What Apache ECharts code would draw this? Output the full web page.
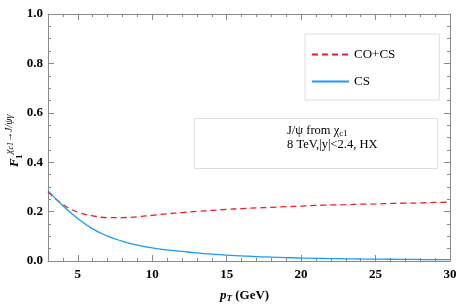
<!DOCTYPE html>
<html><head><meta charset="utf-8">
<script src="https://cdn.jsdelivr.net/npm/echarts@6/dist/echarts.min.js"></script>
<style>html,body{margin:0;padding:0;background:#fff}#c{width:464px;height:307px}</style>
</head><body><div id="c"></div>
<script>
var pT = [3,4,5,6,7,8,9,10,11,12,13,14,15,16,17,18,19,20,21,22,23,24,25,26,27,28,29,30];
var coCS = [0.280,0.229,0.198,0.183,0.176,0.176,0.179,0.185,0.191,0.196,0.201,0.205,0.209,0.212,0.215,0.217,0.220,0.222,0.225,0.227,0.228,0.230,0.231,0.233,0.234,0.235,0.237,0.238];
var cs = [0.285,0.224,0.172,0.130,0.101,0.080,0.064,0.053,0.045,0.039,0.033,0.028,0.024,0.021,0.018,0.016,0.014,0.012,0.011,0.010,0.009,0.008,0.0075,0.007,0.0065,0.006,0.0058,0.0055];
var xMajorTicks = [5,10,15,20,25,30];
var xMinorTicks = [3,4,5,6,7,8,9,10,11,12,13,14,15,16,17,18,19,20,21,22,23,24,25,26,27,28,29,30];
var seriesNames = ['CO+CS','CS'];

function pairs(xs, ys){ return xs.map(function(x,i){return [x, ys[i]];}); }
var axisCol = '#8a8a8a';
var serif = 'Liberation Serif';
function xAx(pos, major, labels){
  return {
    type:'value', position: pos, min:3, max:30,
    axisLine:{show: major, lineStyle:{color:axisCol, width:1}},
    axisTick:{show:true, inside:true, length: major?6:3, customValues: major?xMajorTicks:xMinorTicks, lineStyle:{color:axisCol}},
    axisLabel:{show: labels, customValues: xMajorTicks, margin:7, color:'#000', fontFamily:serif, fontWeight:'bold', fontSize:13},
    splitLine:{show:false}
  };
}
function yAx(pos, labels){
  return {
    type:'value', position: pos, min:0, max:1, interval:0.2,
    axisLine:{show:true, lineStyle:{color:axisCol, width:1}},
    axisTick:{show:true, inside:true, length:6, lineStyle:{color:axisCol}},
    minorTick:{show:true, splitNumber:4, length:3, lineStyle:{color:axisCol}},
    axisLabel:{show: labels, margin:5, color:'#000', fontFamily:serif, fontWeight:'bold', fontSize:13, formatter:function(v){return v.toFixed(1);}},
    splitLine:{show:false}
  };
}
var chart = echarts.init(document.getElementById('c'), null, {renderer:'canvas'});
chart.setOption({
  animation:false,
  backgroundColor:'#fff',
  grid:{left:48, right:14, top:14, bottom:46, containLabel:false},
  xAxis:[xAx('bottom',true,true), xAx('bottom',false,false), xAx('top',true,false), xAx('top',false,false)],
  yAxis:[yAx('left',true), yAx('right',false)],
  legend:{
    orient:'vertical', left:305, top:34,
    data: seriesNames,
    itemWidth:37, itemHeight:10, itemGap:14,
    padding:[14,44,12,6],
    borderColor:'#dedede', borderWidth:1,
    itemStyle:{opacity:0},
    textStyle:{fontFamily:serif, fontSize:13, color:'#000'}
  },
  series:[
    {name:seriesNames[0], type:'line', data:pairs(pT,coCS), smooth:true, showSymbol:false, symbol:'none',
     lineStyle:{color:'#ee1c25', width:1.3, type:[6,4]}, itemStyle:{color:'#ee1c25'}},
    {name:seriesNames[1], type:'line', data:pairs(pT,cs), smooth:true, showSymbol:false, symbol:'none',
     lineStyle:{color:'#1a9bf5', width:1.3}, itemStyle:{color:'#1a9bf5'}}
  ],
  graphic:[
    {type:'rect', shape:{x:194.5, y:118.5, width:243, height:50}, style:{fill:'none', stroke:'#dedede', lineWidth:1}},
    {type:'text', x:287, y:124, style:{text:'{a|J/ψ from χ}{s|c1}', rich:{a:{fontFamily:serif,fontSize:12.5,fill:'#000'}, s:{fontFamily:serif,fontSize:9,fill:'#000', padding:[5,0,0,0]}}}},
    {type:'text', x:287, y:138, style:{text:'8 TeV,|y|<2.4, HX', fontFamily:serif, fontSize:12.5, fill:'#000'}},
    {type:'group', x:18, y:167, rotation:Math.PI/2, children:[
      {type:'text', x:0, y:-10, style:{text:'F', fontFamily:serif, fontWeight:'bold', fontStyle:'italic', fontSize:13, fill:'#000'}},
      {type:'text', x:8, y:-3, style:{text:'1', fontFamily:serif, fontWeight:'bold', fontSize:9, fill:'#000'}},
      {type:'text', x:13, y:-14, style:{text:'{a|χ}{b|c1}{a|→J/ψγ}', rich:{a:{fontFamily:serif, fontStyle:'italic', fontSize:10, fill:'#000'}, b:{fontFamily:serif, fontStyle:'italic', fontSize:8, fill:'#000', padding:[3,0,0,0]}}}}
    ]},
    {type:'text', x:220, y:289, style:{text:'{p|p}{t|T}{g| (GeV)}', rich:{p:{fontFamily:serif, fontStyle:'italic', fontWeight:'bold', fontSize:13, fill:'#000'}, t:{fontFamily:serif, fontStyle:'italic', fontWeight:'bold', fontSize:9, fill:'#000', padding:[5,0,0,0]}, g:{fontFamily:serif, fontWeight:'bold', fontSize:13, fill:'#000'}}}}
  ]
});
</script></body></html>
